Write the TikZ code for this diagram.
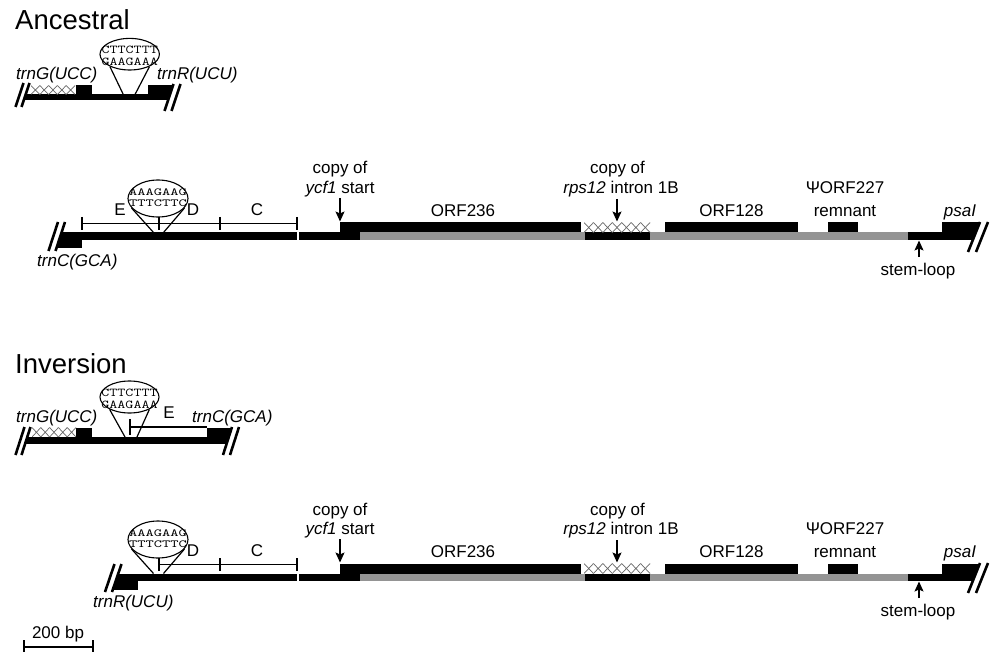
\documentclass[tikz,border=0pt]{standalone}
\usepackage{fontspec}
\setmainfont{Liberation Sans}
\usepackage{graphicx}
\usetikzlibrary{arrows.meta,shapes.geometric}

\newcommand\seqtxt[1]{\scalebox{1.3}[1]{\fontsize{12}{12}\selectfont\ttfamily #1}}
\newcommand\seqtxtb[1]{\scalebox{1.45}[1]{\fontsize{10.8}{11}\selectfont\ttfamily #1}}
\newcommand\hatchbox[5]{%
  \begin{scope}
  \clip (#1,#3) rectangle (#2,#4);
  \foreach \k in {0,...,12}{
    \draw[hatchln] ({#1+\k*#5},#3) -- ({#1+(\k+1)*#5},#4)
                   ({#1+\k*#5},#4) -- ({#1+(\k+1)*#5},#3);
  }
  \end{scope}}

\newcommand\rightpart{%
  % bottom track
  \fill[blk] (296,232.5) rectangle (360,239.5);
  \fill[gry] (360,232.5) rectangle (908,239.5);
  \fill[blk] (585,232.5) rectangle (650,239.5);
  \fill[blk] (908,232.5) rectangle (992,239.5);
  % upper track
  \fill[blk] (340,222.5) rectangle (581,232.5);
  \hatchbox{584}{650}{222.5}{232.5}{9.43}
  \fill[blk] (665,222.5) rectangle (798,232.5);
  \fill[blk] (828,222.5) rectangle (858,232.5);
  \fill[blk] (942,222.5) rectangle (992,232.5);
  % gap
  \draw[white, line width=1.3pt] (298,231.5) -- (298,240.5);
  % right break
  \fill[white] (980.4,221) -- (992,221) -- (992,253) -- (967.6,253) -- cycle;
  \draw[brk] (968,252) -- (980,222);
  \draw[brk] (976,252) -- (988,222);
  % labels
  \node[lab] (cy1) at (340,174) {copy of};
  \node[lab] (cy2) at (340,193.5) {\textit{ycf1} start};
  \coordinate (ycfa) at (340,198);
  \coordinate (ycfb) at (340,221.5);
  \draw[arr] (ycfa) -- (ycfb);
  \node[lab] (orfa) at (463,216.5) {ORF236};
  \node[lab] (rp1) at (617.5,174) {copy of};
  \node[lab] (rp2) at (621,193.5) {\textit{rps12} intron 1B};
  \coordinate (rpa) at (617,199);
  \coordinate (rpb) at (617,221.5);
  \draw[arr] (rpa) -- (rpb);
  \node[lab] (orfb) at (731.5,216.5) {ORF128};
  \node[lab] (psi1) at (845,193.5) {ΨORF227};
  \node[lab] (psi2) at (845,216.5) {remnant};
  \node[lab] (psai) at (960,216.5) {\textit{psaI}};
  \node[lab] (stem) at (918,275.5) {stem-loop};
  \coordinate (sta) at (919,257);
  \coordinate (stb) at (919,240.5);
  \draw[arr] (sta) -- (stb);
}

\begin{document}
\begin{tikzpicture}[x=1pt,y=-1pt,
  lab/.style={font=\fontsize{17}{19}\selectfont, inner sep=0, anchor=base},
  labw/.style={font=\fontsize{17}{19}\selectfont\itshape, inner sep=0, anchor=base west},
  ttl/.style={font=\fontsize{27.5}{30}\selectfont, inner sep=0, anchor=base west},
  seq/.style={inner sep=0},
  bub/.style={ellipse, draw, fill=white, line width=1.1pt, inner sep=0},
  thinln/.style={line width=1.2pt},
  brk/.style={line width=2.6pt},
  blk/.style={fill=black},
  gry/.style={fill=black!42},
  arr/.style={-{Stealth[length=10pt,width=9pt,inset=2pt]}, line width=1.2pt},
  hatchln/.style={draw=black!60, line width=0.7pt}]
\useasboundingbox (0,0) rectangle (992,652);

% ================= Ancestral small
\node[ttl] (tA) at (15,30) {Ancestral};
\fill[blk] (20,94.5) rectangle (180,100.5);
\hatchbox{31}{75}{85.5}{94.5}{8.8}
\fill[blk] (76,85.5) rectangle (92,94.5);
\fill[blk] (148,85.5) rectangle (180,94.5);
\fill[white] (0,83) -- (29.5,83) -- (21.5,107) -- (0,107) -- cycle;
\fill[white] (173.5,84) -- (200,84) -- (200,111) -- (164.5,111) -- cycle;
\draw[brk] (15.5,107) -- (23.5,83);
\draw[brk] (21.5,107) -- (29.5,83);
\draw[brk] (164.5,111) -- (173.5,84);
\draw[brk] (171.5,111) -- (180.5,84);
\node[bub, minimum width=59.4pt, minimum height=31.6pt] (eA1) at (129.7,54.2) {};
\coordinate (fA1l) at (123.3,94.5);
\coordinate (fA1r) at (135,94.5);
\draw[thinln] (eA1.212) -- (fA1l);
\draw[thinln] (eA1.-32) -- (fA1r);
\node[seq] (sA1a) at (129.7,50) {\seqtxt{CTTCTTT}};
\node[seq] (sA1b) at (129.7,62) {\seqtxt{GAAGAAA}};
\node[labw] (gA1) at (16,80) {trnG(UCC)};
\node[labw] (rA1) at (157,80) {trnR(UCU)};

% ================= Ancestral main
\fill[blk] (40,232.5) rectangle (300,239.5);
\fill[blk] (40,232.5) rectangle (82,248);
\fill[white] (0,221) -- (65.3,221) -- (55.2,252) -- (0,252) -- cycle;
\draw[brk] (48.5,251) -- (58,222);
\draw[brk] (55.5,251) -- (65,222);
\draw[thinln] (82,223.5) -- (297,223.5);
\draw[thinln] (82,217) -- (82,230);
\draw[thinln] (159,217) -- (159,230);
\draw[thinln] (220,217) -- (220,230);
\draw[thinln] (297,217) -- (297,230);
\node[bub, minimum width=60pt, minimum height=37pt] (eA2) at (158,198.5) {};
\coordinate (fA2l) at (153.5,232.5);
\coordinate (fA2r) at (163.5,232.5);
\draw[thinln] (eA2.200) -- (fA2l);
\draw[thinln] (eA2.-20) -- (fA2r);
\node[seq] (sA2a) at (158,192.5) {\seqtxtb{AAAGAAG}};
\node[seq] (sA2b) at (158,203) {\seqtxtb{TTTCTTC}};
\node[lab] (EA2) at (120,215) {E};
\node[lab] (DA2) at (193,215) {D};
\node[lab] (CA2) at (257,215) {C};
\node[labw] (cA2) at (37,266.5) {trnC(GCA)};
\begin{scope}[name prefix=A-]
\rightpart
\end{scope}

% ================= Inversion small
\node[ttl] (tI) at (15,373) {Inversion};
\fill[blk] (20,437) rectangle (245,444);
\hatchbox{32}{76}{427.5}{437}{8.8}
\fill[blk] (76,427.5) rectangle (92,437);
\fill[blk] (207,427.5) rectangle (245,437);
\fill[white] (0,426) -- (30.8,426) -- (21.2,456) -- (0,456) -- cycle;
\fill[white] (232.3,426) -- (260,426) -- (260,456) -- (222.7,456) -- cycle;
\draw[brk] (15.5,455) -- (24.5,427);
\draw[brk] (21.5,455) -- (30.5,427);
\draw[brk] (223,455) -- (232,427);
\draw[brk] (230,455) -- (239,427);
\draw[thinln] (130,427) -- (207,427);
\draw[thinln] (130,419) -- (130,435);
\node[bub, minimum width=59pt, minimum height=32pt] (eI1) at (129.5,397) {};
\coordinate (fI1l) at (125,437);
\coordinate (fI1r) at (137,437);
\draw[thinln] (eI1.212) -- (fI1l);
\draw[thinln] (eI1.-32) -- (fI1r);
\node[seq] (sI1a) at (129.5,393) {\seqtxt{CTTCTTT}};
\node[seq] (sI1b) at (129.5,405) {\seqtxt{GAAGAAA}};
\node[lab] (EI1) at (169,418) {E};
\node[labw] (gI1) at (16,422.5) {trnG(UCC)};
\node[labw] (cI1) at (192,422.5) {trnC(GCA)};

% ================= Inversion main
\fill[blk] (100,573.5) rectangle (300,580.5);
\fill[blk] (100,573.5) rectangle (138,590);
\fill[white] (0,563) -- (121.8,563) -- (111.7,593) -- (0,593) -- cycle;
\draw[brk] (105,592) -- (114.5,564);
\draw[brk] (112,592) -- (121.5,564);
\draw[thinln] (159,564.5) -- (297,564.5);
\draw[thinln] (159,558) -- (159,571);
\draw[thinln] (220,558) -- (220,571);
\draw[thinln] (297,558) -- (297,571);
\node[bub, minimum width=60pt, minimum height=37pt] (eI2) at (158,539.5) {};
\coordinate (fI2l) at (153.5,573.5);
\coordinate (fI2r) at (163.5,573.5);
\draw[thinln] (eI2.200) -- (fI2l);
\draw[thinln] (eI2.-20) -- (fI2r);
\node[seq] (sI2a) at (158,533.5) {\seqtxtb{AAAGAAG}};
\node[seq] (sI2b) at (158,544) {\seqtxtb{TTTCTTC}};
\node[lab] (DI2) at (193,556) {D};
\node[lab] (CI2) at (257,556) {C};
\node[labw] (rI2) at (93,607.5) {trnR(UCU)};
\begin{scope}[shift={(0,341)}, name prefix=I-]
\rightpart
\end{scope}

% ================= scale bar
\node[lab] (bp) at (58,638) {200 bp};
\coordinate (sb1) at (24,647);
\coordinate (sb2) at (93,647);
\draw[thinln] (sb1) -- (sb2);
\draw[thinln] (24,640) -- (24,653);
\draw[thinln] (93,640) -- (93,653);
\end{tikzpicture}
\end{document}
